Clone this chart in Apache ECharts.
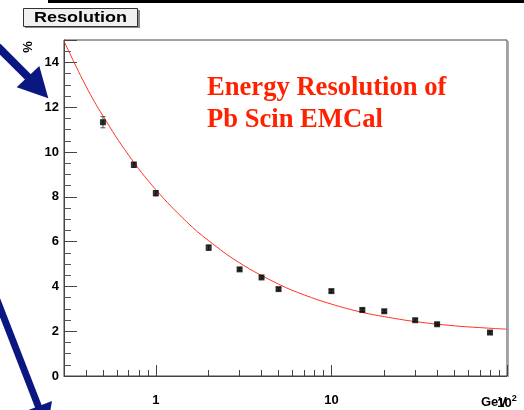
<!DOCTYPE html>
<html>
<head>
<meta charset="utf-8">
<script src="https://cdn.jsdelivr.net/npm/echarts@6/dist/echarts.min.js"></script>
<style>
html,body{margin:0;padding:0;background:#fff;}
#chart{width:524px;height:410px;}
</style>
</head>
<body>
<div id="chart"></div>
<script>
// Measured points
const energies   = [0.5, 0.75, 1, 2, 3, 4, 5, 10, 15, 20, 30, 40, 80];
const resolution = [11.33, 9.43, 8.16, 5.73, 4.76, 4.40, 3.88, 3.79, 2.95, 2.89, 2.49, 2.31, 1.94];
const errors     = [0.25, 0.12, 0.12, 0.12, 0.06, 0.06, 0.06, 0.06, 0.06, 0.06, 0.06, 0.06, 0.06];
// Fit curve
const fitEnergies = [0.3, 0.4, 0.5, 0.7, 1, 1.5, 2, 3, 5, 7, 10, 15, 20, 30, 50, 70, 100];
const fitValues   = [14.95, 12.94, 11.61, 9.86, 8.32, 6.88, 6.04, 5.05, 4.10, 3.62, 3.21, 2.84, 2.65, 2.43, 2.24, 2.16, 2.09];
// Ticks
const xMajorTicks = [1, 10, 100];
const xMinorTicks = [0.4, 0.5, 0.6, 0.7, 0.8, 0.9, 2, 3, 4, 5, 6, 7, 8, 9, 20, 30, 40, 50, 60, 70, 80, 90];
const yTickLabels = [0, 2, 4, 6, 8, 10, 12, 14];

const chart = echarts.init(document.getElementById('chart'), null, {renderer: 'canvas'});
const sans = "'Liberation Sans', Arial, sans-serif";
const axisColor = '#444';

const pts = energies.map((e, i) => [e, resolution[i]]);
const errPts = energies.map((e, i) => [e, resolution[i], errors[i]]);
const fitPts = fitEnergies.map((e, i) => [e, fitValues[i]]);

const option = {
  animation: false,
  backgroundColor: '#fff',
  grid: {left: 64, right: 17, top: 40, bottom: 34, show: true, borderColor: '#444', borderWidth: 1, backgroundColor: 'transparent'},
  xAxis: [
    {
      type: 'log', logBase: 10, min: 0.3, max: 100, position: 'bottom',
      axisLine: {show: true, lineStyle: {color: axisColor, width: 1}},
      axisTick: {show: true, inside: true, length: 11, customValues: xMajorTicks, lineStyle: {color: axisColor}},
      axisLabel: {
        show: true, customValues: [1, 10, 100], margin: 18,
        fontFamily: sans, fontWeight: 'bold', fontSize: 13, color: '#000',
        formatter: function (v) {
          if (Math.abs(v - 100) < 1e-6) return '{n|10}{s|2}';
          if (Math.abs(v - 10) < 1e-6) return '10';
          if (Math.abs(v - 1) < 1e-6) return '1';
          return '';
        },
        rich: {
          n: {fontFamily: sans, fontWeight: 'bold', fontSize: 13, color: '#000'},
          s: {fontFamily: sans, fontWeight: 'bold', fontSize: 9, color: '#000', verticalAlign: 'top', padding: [0, 0, 10, 0]}
        }
      },
      splitLine: {show: false}, minorTick: {show: false}
    },
    {
      type: 'log', logBase: 10, min: 0.3, max: 100, position: 'bottom', gridIndex: 0,
      axisLine: {show: false},
      axisTick: {show: true, inside: true, length: 6, customValues: xMinorTicks, lineStyle: {color: axisColor}},
      axisLabel: {show: false},
      splitLine: {show: false}
    }
  ],
  yAxis: {
    type: 'value', min: 0, max: 15, interval: 2,
    axisLine: {show: true, lineStyle: {color: axisColor, width: 1}},
    axisTick: {show: true, inside: true, length: 13, lineStyle: {color: axisColor}},
    minorTick: {show: true, splitNumber: 4, length: 7, lineStyle: {color: '#555'}},
    axisLabel: {
      margin: 5, fontFamily: sans, fontWeight: 'bold', fontSize: 13, color: '#000',
      showMaxLabel: false,
      formatter: function (v) { return yTickLabels.indexOf(v) >= 0 ? String(v) : ''; }
    },
    splitLine: {show: false}
  },
  series: [
    {
      type: 'line', data: fitPts, xAxisIndex: 0, smooth: 0.4, showSymbol: false, symbol: 'none',
      lineStyle: {color: '#ff3322', width: 1}, clip: true, z: 2
    },
    {
      type: 'custom', xAxisIndex: 0, data: errPts, z: 3, clip: true,
      renderItem: function (params, api) {
        const x = api.value(0), y = api.value(1), e = api.value(2);
        const top = api.coord([x, y + e]);
        const bot = api.coord([x, y - e]);
        const st = {stroke: '#555', lineWidth: 1};
        return {
          type: 'group',
          children: [
            {type: 'line', shape: {x1: top[0], y1: top[1], x2: bot[0], y2: bot[1]}, style: st},
            {type: 'line', shape: {x1: top[0] - 2.5, y1: top[1], x2: top[0] + 2.5, y2: top[1]}, style: st},
            {type: 'line', shape: {x1: bot[0] - 2.5, y1: bot[1], x2: bot[0] + 2.5, y2: bot[1]}, style: st}
          ]
        };
      }
    },
    {
      type: 'scatter', data: pts, xAxisIndex: 0, symbol: 'rect', symbolSize: 6,
      itemStyle: {color: '#000'}, z: 4
    }
  ],
  graphic: [
    {type: 'rect', shape: {x: 48, y: 0, width: 476, height: 3}, style: {fill: '#000'}, silent: true},
    {type: 'line', shape: {x1: 508.5, y1: 41, x2: 508.5, y2: 377}, style: {stroke: '#aaa', lineWidth: 1}, silent: true},
    // Resolution box
    {type: 'rect', shape: {x: 25, y: 10, width: 115, height: 18}, style: {fill: '#888'}, silent: true},
    {type: 'rect', shape: {x: 23.5, y: 8.5, width: 114, height: 18}, style: {fill: '#f0f0f0', stroke: '#333', lineWidth: 1}, silent: true},
    {type: 'text', x: 80.5, y: 18, scaleX: 1.2, style: {text: 'Resolution', fontFamily: sans, fontWeight: 'bold', fontSize: 15, fill: '#000', textAlign: 'center', textVerticalAlign: 'middle'}, silent: true},
    // % label
    {type: 'text', x: 28, y: 47, rotation: Math.PI / 2, style: {text: '%', fontFamily: sans, fontWeight: 'bold', fontSize: 13, fill: '#000', textAlign: 'center', textVerticalAlign: 'middle'}, silent: true},
    // GeV label
    {type: 'text', x: 481, y: 402, style: {text: 'GeV', fontFamily: sans, fontWeight: 'bold', fontSize: 13, fill: '#000', textAlign: 'left', textVerticalAlign: 'middle'}, silent: true},
    // Title
    {type: 'text', x: 207, y: 104, style: {text: 'Energy Resolution of\nPb Scin EMCal', fontFamily: "'Liberation Serif', 'Times New Roman', serif", fontWeight: 'bold', fontSize: 26.6, lineHeight: 32, fill: '#ff2200', textAlign: 'left', textVerticalAlign: 'middle'}, silent: true},
    // Arrow 1
    {type: 'line', shape: {x1: -10, y1: 39, x2: 30, y2: 79}, style: {stroke: '#0b1780', lineWidth: 8}, silent: true},
    {type: 'polygon', shape: {points: [[16.7, 87.3], [39.3, 66], [48.3, 98.3]]}, style: {fill: '#0b1780'}, silent: true},
    // Arrow 2
    {type: 'line', shape: {x1: -3, y1: 300, x2: 39, y2: 408}, style: {stroke: '#0b1780', lineWidth: 7}, silent: true},
    {type: 'polygon', shape: {points: [[26, 411], [52, 401], [47, 430]]}, style: {fill: '#0b1780'}, silent: true}
  ]
};
chart.setOption(option);
</script>
</body>
</html>
